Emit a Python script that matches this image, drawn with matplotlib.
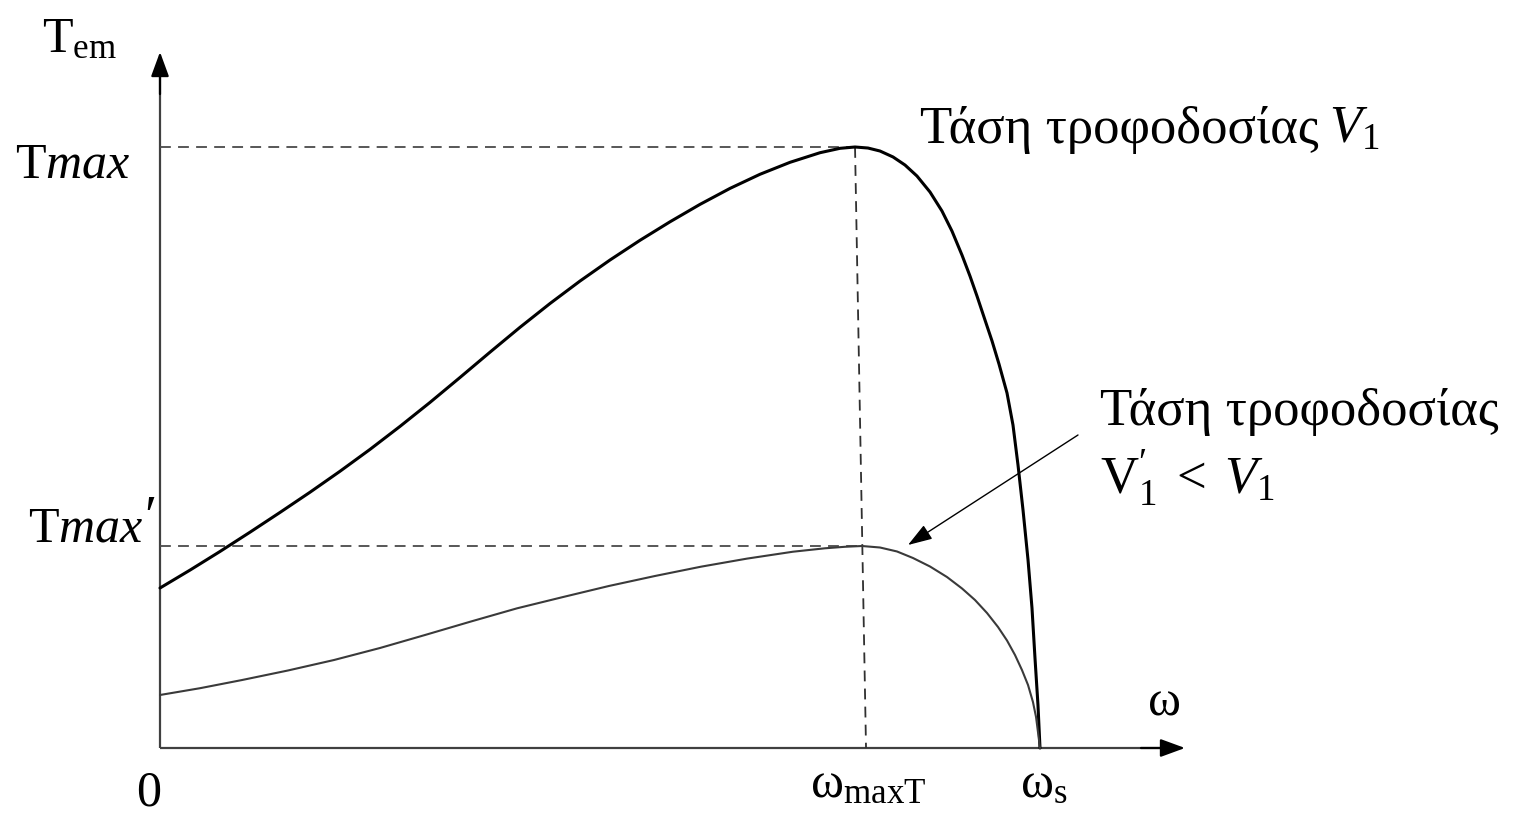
import matplotlib
matplotlib.use("Agg")
import matplotlib.pyplot as plt

plt.rcParams['font.family'] = ['Liberation Serif', 'DejaVu Serif']
plt.rcParams['mathtext.fontset'] = 'custom'
plt.rcParams['mathtext.rm'] = 'Liberation Serif'
plt.rcParams['mathtext.it'] = 'Liberation Serif:italic'
plt.rcParams['mathtext.bf'] = 'Liberation Serif:bold'

# ---- data (ω normalised to ω_s, T normalised to T_max) ----
# supply voltage V1
omega_v1 = [0.0000, 0.0341, 0.0682, 0.1023, 0.1364, 0.1705, 0.2045, 0.2386, 0.2727,
            0.3068, 0.3409, 0.3750, 0.4091, 0.4432, 0.4773, 0.5114, 0.5455, 0.5795,
            0.6136, 0.6477, 0.6818, 0.7159, 0.7500, 0.7727, 0.7898, 0.8045, 0.8182,
            0.8330, 0.8466, 0.8602, 0.8750, 0.8886, 0.9000, 0.9114, 0.9205, 0.9284,
            0.9375, 0.9455, 0.9534, 0.9625, 0.9693, 0.9750, 0.9807, 0.9864, 0.9909,
            0.9943, 0.9977, 1.0000]
torque_v1 = [0.2662, 0.2960, 0.3270, 0.3591, 0.3920, 0.4256, 0.4604, 0.4968, 0.5351,
             0.5750, 0.6165, 0.6586, 0.7000, 0.7396, 0.7770, 0.8120, 0.8448, 0.8755,
             0.9045, 0.9311, 0.9546, 0.9745, 0.9905, 0.9978, 1.0000, 0.9983, 0.9933,
             0.9834, 0.9700, 0.9517, 0.9251, 0.8935, 0.8600, 0.8200, 0.7850, 0.7520,
             0.7121, 0.6772, 0.6389, 0.5907, 0.5374, 0.4709, 0.3960, 0.3128, 0.2329,
             0.1498, 0.0715, 0.0000]

# reduced supply voltage V1' < V1
omega_v2 = [0.0000, 0.0455, 0.0932, 0.1455, 0.1977, 0.2500, 0.3011, 0.3534, 0.4057,
            0.4580, 0.5102, 0.5625, 0.6148, 0.6670, 0.7193, 0.7557, 0.7784, 0.7977,
            0.8182, 0.8375, 0.8557, 0.8750, 0.8943, 0.9114, 0.9261, 0.9398, 0.9523,
            0.9625, 0.9716, 0.9795, 0.9864, 0.9920, 0.9955, 0.9977, 1.0000]
torque_v2 = [0.0882, 0.0995, 0.1131, 0.1290, 0.1464, 0.1664, 0.1880, 0.2105, 0.2324,
             0.2512, 0.2696, 0.2862, 0.3017, 0.3151, 0.3266, 0.3323, 0.3348, 0.3361,
             0.3336, 0.3270, 0.3161, 0.3020, 0.2845, 0.2654, 0.2463, 0.2246, 0.2013,
             0.1789, 0.1547, 0.1298, 0.1048, 0.0765, 0.0516, 0.0266, 0.0000]

t_max = 1.0
t_max2 = 0.3361
w_maxT_top = 0.7898
w_maxT_bottom = 0.8023
w_max2 = 0.7977
w_s = 1.0

W, H = 1515, 817
X0, Y0, SX, SY = 160, 748, 880, 601   # layout of the drawing area on the canvas

fig = plt.figure(figsize=(W / 100, H / 100), dpi=100)
ax = fig.add_axes([0, 0, 1, 1])
ax.set_xlim(-X0 / SX, (W - X0) / SX)
ax.set_ylim(-(H - Y0) / SY, Y0 / SY)
ax.axis('off')


def P(px, py):
    return ((px - X0) / SX, (Y0 - py) / SY)


axis_col = '#404040'
dash_col = '#4a4a4a'

x_tip = P(1185, 0)[0]
y_tip = P(0, 52)[1]
ax.plot([0, x_tip - 0.02], [0, 0], color=axis_col, lw=1.6, solid_capstyle='butt')
ax.plot([0, 0], [0, y_tip - 0.03], color=axis_col, lw=1.6, solid_capstyle='butt')
ax.annotate('', xy=(x_tip, 0), xytext=(x_tip - 0.05, 0),
            arrowprops=dict(arrowstyle='-|>,head_length=1.5,head_width=0.55',
                            color='black', lw=1.6, shrinkA=0, shrinkB=0))
ax.annotate('', xy=(0, y_tip), xytext=(0, y_tip - 0.07),
            arrowprops=dict(arrowstyle='-|>,head_length=1.5,head_width=0.55',
                            color='black', lw=1.6, shrinkA=0, shrinkB=0))

# dashed guides
dash = (0, (6, 4))
ax.plot([0, w_maxT_top], [t_max, t_max], ls=dash, color=dash_col, lw=1.3)
ax.plot([0, w_max2], [t_max2, t_max2], ls=dash, color=dash_col, lw=1.3)
ax.plot([w_maxT_top, w_maxT_bottom], [t_max, 0], ls=dash, color='#303030', lw=1.3)

# curves
ax.plot(omega_v1, torque_v1, color='black', lw=2.2, solid_joinstyle='round',
        solid_capstyle='round')
ax.plot(omega_v2, torque_v2, color='#3a3a3a', lw=1.5, solid_joinstyle='round',
        solid_capstyle='round')

# pointer arrow
ax.annotate('', xy=P(908, 545), xytext=P(1078, 435),
            arrowprops=dict(arrowstyle='-|>,head_length=1.5,head_width=0.5',
                            color='black', lw=1.0, shrinkA=0, shrinkB=0))

fs = 36
fg = 38
ax.text(*P(42, 52), r'T$_{\mathrm{em}}$', fontsize=fs, ha='left', va='baseline')
ax.text(*P(15, 177), r'T$\mathit{max}$', fontsize=fs, ha='left', va='baseline')
ax.text(*P(28, 542), r'T$\mathit{max}$', fontsize=fs, ha='left', va='baseline')
ax.text(*P(144, 535), '′', fontsize=40, ha='left', va='baseline',
        family=['Liberation Serif', 'DejaVu Serif'])
ax.text(*P(149, 806), '0', fontsize=fs, ha='center', va='baseline')
ax.text(*P(810, 797), r'ω$_{\mathrm{maxT}}$', fontsize=fs, ha='left', va='baseline')
ax.text(*P(1020, 797), r'ω$_{\mathrm{s}}$', fontsize=fs, ha='left', va='baseline')
ax.text(*P(1148, 715), 'ω', fontsize=fs, ha='left', va='baseline')

t1 = ax.text(*P(920, 143), 'Τάση τροφοδοσίας', fontsize=fg, ha='left', va='baseline')
renderer = fig.canvas.get_renderer()
bb = t1.get_window_extent(renderer=renderer)
x_after = ax.transData.inverted().transform((bb.x1 + 10, 0))[0]
ax.text(x_after, P(0, 143)[1], r'$V_1$', fontsize=fg, ha='left', va='baseline')

ax.text(*P(1100, 425), 'Τάση τροφοδοσίας', fontsize=fg, ha='left', va='baseline')
ax.text(*P(1100, 493), r"$\mathrm{V}_1^{\prime}\;<\;V_1$", fontsize=fg, ha='left',
        va='baseline')

fig.savefig('out.png', dpi=100)
